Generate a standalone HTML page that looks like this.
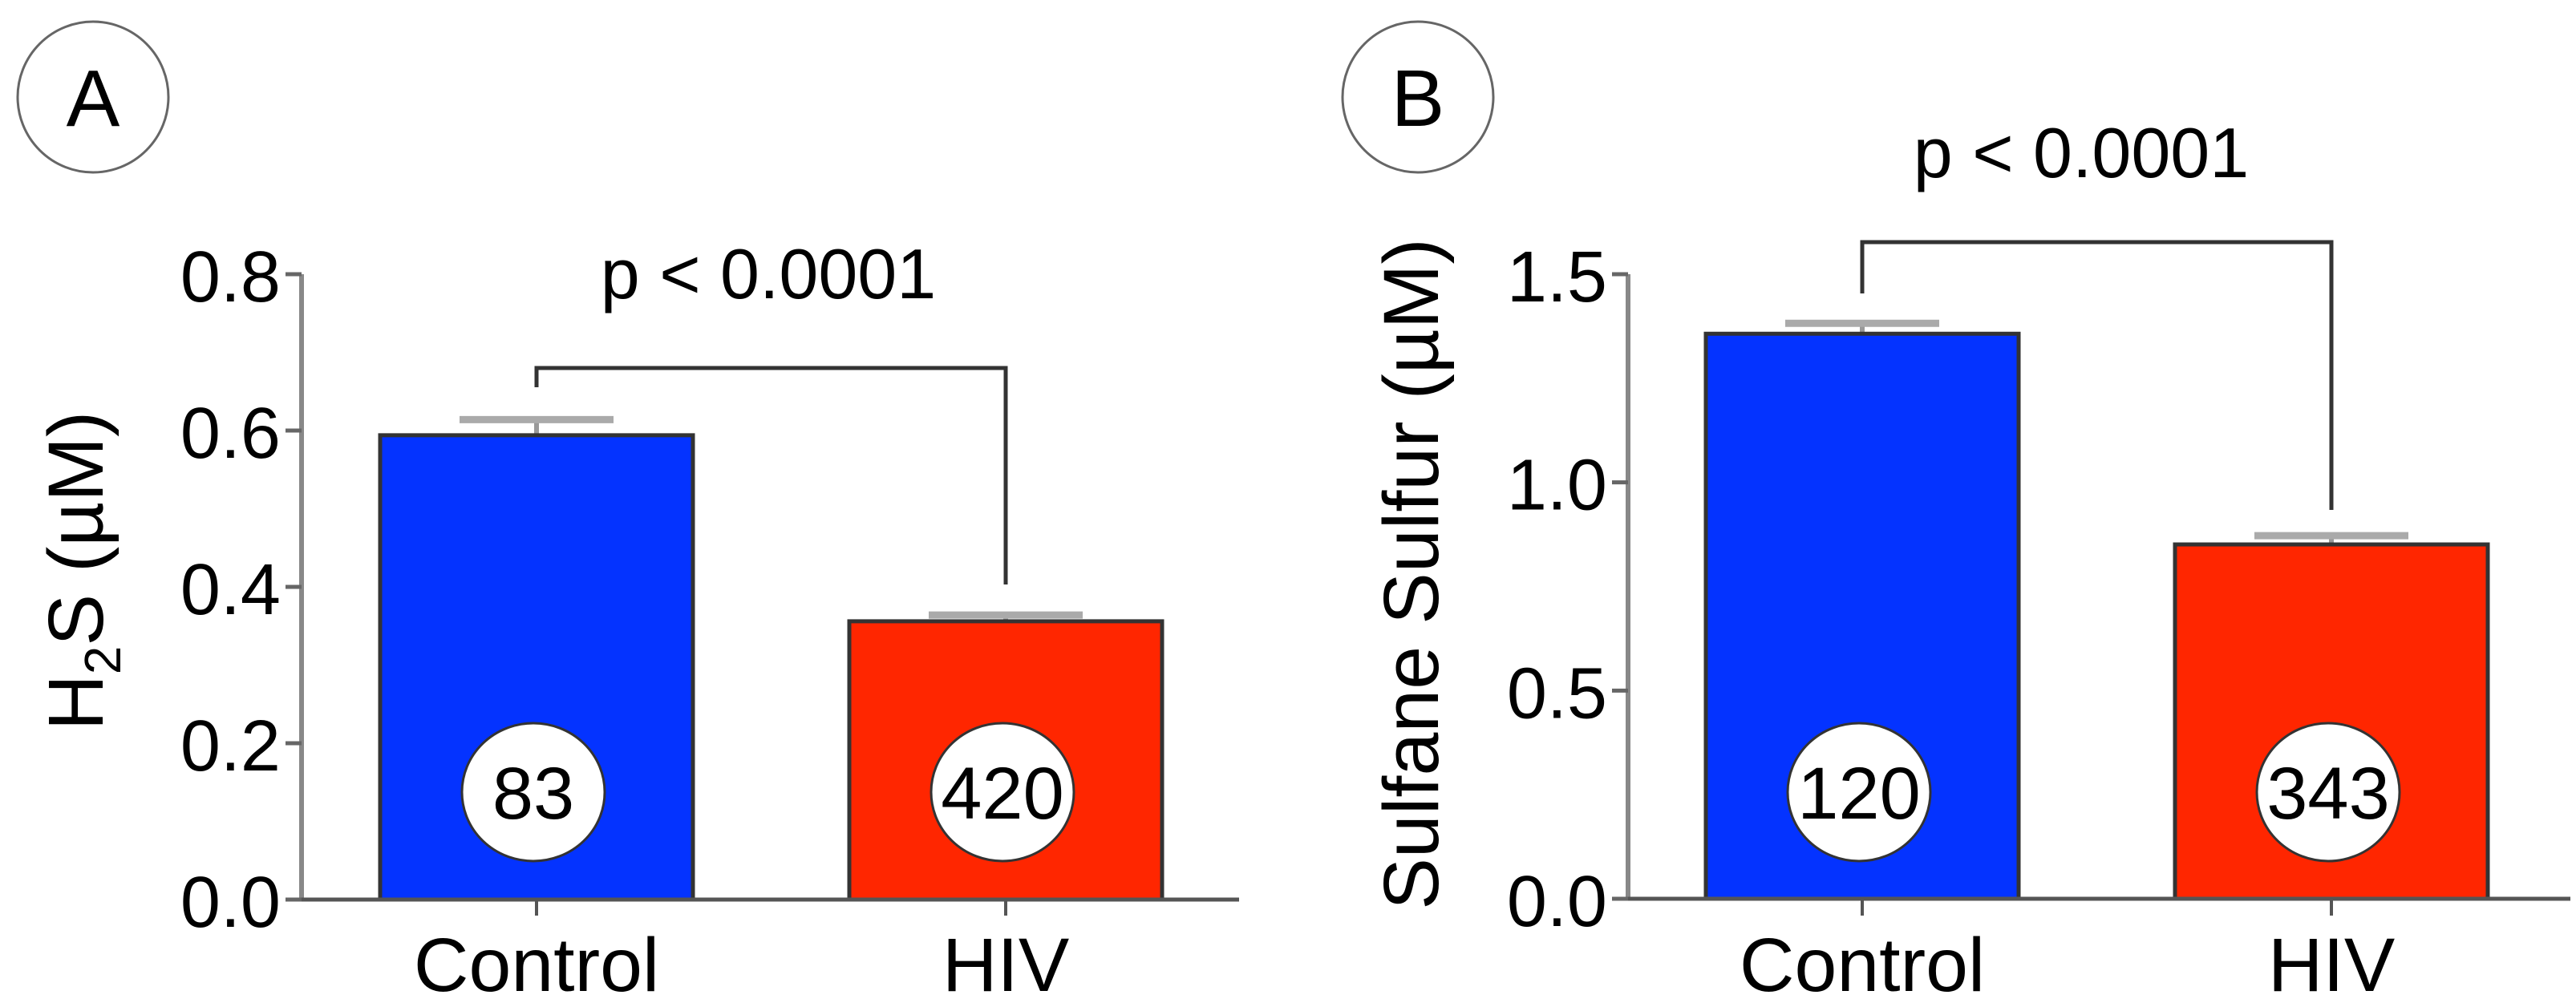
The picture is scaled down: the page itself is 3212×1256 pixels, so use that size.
<!DOCTYPE html>
<html><head><meta charset="utf-8"><style>
body{margin:0;background:#fff}
svg{display:block;font-family:"Liberation Sans",sans-serif}
</style></head><body>
<svg id="chart" width="3212" height="1256" viewBox="0 0 3212 1256" xmlns="http://www.w3.org/2000/svg">
<g id="pa"></g>
<g id="pb"></g>
</svg>
<script>
const categories = ["Control", "HIV"];
const countsA = ["83", "420"];
const countsB = ["120", "343"];
const meansA = [0.594, 0.356];
const errA = [0.020, 0.008];
const meansB = [1.357, 0.851];
const errB = [0.025, 0.021];
const ticksA = ["0.0", "0.2", "0.4", "0.6", "0.8"];
const ticksB = ["0.0", "0.5", "1.0", "1.5"];
const pLabel = "p < 0.0001";

const NS = "http://www.w3.org/2000/svg";
function mk(parent, tag, attrs, text) {
  const e = document.createElementNS(NS, tag);
  for (const k in attrs) e.setAttribute(k, attrs[k]);
  if (text !== undefined) e.textContent = text;
  parent.appendChild(e);
  return e;
}
const colors = ["#0433FF", "#FF2600"];

function panel(g, cfg) {
  const ys = v => cfg.y0 - (v / cfg.ymax) * (cfg.y0 - cfg.ytop);
  const xs = i => cfg.cx[i];
  // letter circle
  const lc = mk(g, "ellipse", {cx: cfg.lx, cy: 121, rx: 94, ry: 94, fill: "none", stroke: "#666", "stroke-width": 3});
  
  
  const lt = mk(g, "text", {x: cfg.lx, y: 157, "font-size": 100, "text-anchor": "middle"}, cfg.letter);
  
  
  // bars
  cfg.means.forEach((m, i) => {
    const x0 = xs(i) - 195, w = 390;
    const top = ys(m);
    const eTop = ys(m + cfg.err[i]);
    const eb = mk(g, "line", {x1: xs(i), x2: xs(i), y1: eTop, y2: top, stroke: "#999", "stroke-width": 6});
    
    
    const cap = mk(g, "line", {x1: xs(i) - 96, x2: xs(i) + 96, y1: eTop, y2: eTop, stroke: "#aaa", "stroke-width": 9});
    
    
    const r = mk(g, "rect", {x: x0, y: top, width: w, height: cfg.y0 - top, fill: colors[i], stroke: "#333", "stroke-width": 5});
    
    
    const el = mk(g, "ellipse", {cx: xs(i) - 4, cy: 988, rx: 89, ry: 86, fill: "#fff", stroke: "#333", "stroke-width": 3});
    
    
    const nt = mk(g, "text", {x: xs(i) - 4, y: 1021, "font-size": 92, "text-anchor": "middle"}, cfg.counts[i]);
    
    
    const ct = mk(g, "line", {x1: xs(i), x2: xs(i), y1: cfg.y0, y2: 1142, stroke: "#555", "stroke-width": 4});
    
    
    const cl = mk(g, "text", {x: xs(i), y: 1236, "font-size": 95, "text-anchor": "middle"}, categories[i]);
    
    
  });
  // axes
  const ya = mk(g, "line", {x1: cfg.ax, x2: cfg.ax, y1: cfg.ytop, y2: cfg.y0, stroke: "#888", "stroke-width": 6});
  
  
  const xa = mk(g, "line", {x1: cfg.ax - 20, x2: cfg.xend, y1: cfg.y0, y2: cfg.y0, stroke: "#555", "stroke-width": 5});
  
  
  cfg.ticks.forEach(t => {
    const y = ys(parseFloat(t));
    const tk = mk(g, "line", {x1: cfg.ax - 20, x2: cfg.ax, y1: y, y2: y, stroke: "#666", "stroke-width": 5});
    
    
    const tl = mk(g, "text", {x: cfg.ax - 26, y: y + 34, "font-size": 90, "text-anchor": "end"}, t);
    
    
  });
  // y title
  const yt = mk(g, "text", {x: 0, y: 0, "font-size": 97, "text-anchor": "middle", transform: `translate(${cfg.tx},${cfg.ty}) rotate(-90)`});
  
  
  cfg.title(yt);
  // bracket
  const br = mk(g, "polyline", {points: `${xs(0)},${cfg.bl} ${xs(0)},${cfg.bt} ${xs(1)},${cfg.bt} ${xs(1)},${cfg.br}`, fill: "none", stroke: "#333", "stroke-width": 5});
  
  
  const pt = mk(g, "text", {x: cfg.px, y: cfg.py, "font-size": 88, "text-anchor": "middle"}, pLabel);
  
  
}

panel(document.getElementById("pa"), {
  letter: "A", lx: 116, y0: 1122, ytop: 342, ymax: 0.8, ax: 376, xend: 1545,
  cx: [669, 1254], means: meansA, err: errA, counts: countsA, ticks: ticksA,
  tx: 128, ty: 712, bl: 483, bt: 459, br: 729, px: 958, py: 372,
  title: t => {
    mk(t, "tspan", {}, "H");
    mk(t, "tspan", {"font-size": 64, dy: 22}, "2");
    mk(t, "tspan", {dy: -22}, "S (µM)");
  }
});
panel(document.getElementById("pb"), {
  letter: "B", lx: 1768, y0: 1121, ytop: 342, ymax: 1.5, ax: 2030, xend: 3205,
  cx: [2322, 2907], means: meansB, err: errB, counts: countsB, ticks: ticksB,
  tx: 1793, ty: 716, bl: 366, bt: 302, br: 636, px: 2595, py: 221,
  title: t => { t.textContent = "Sulfane Sulfur (µM)"; }
});
</script>
</body></html>
